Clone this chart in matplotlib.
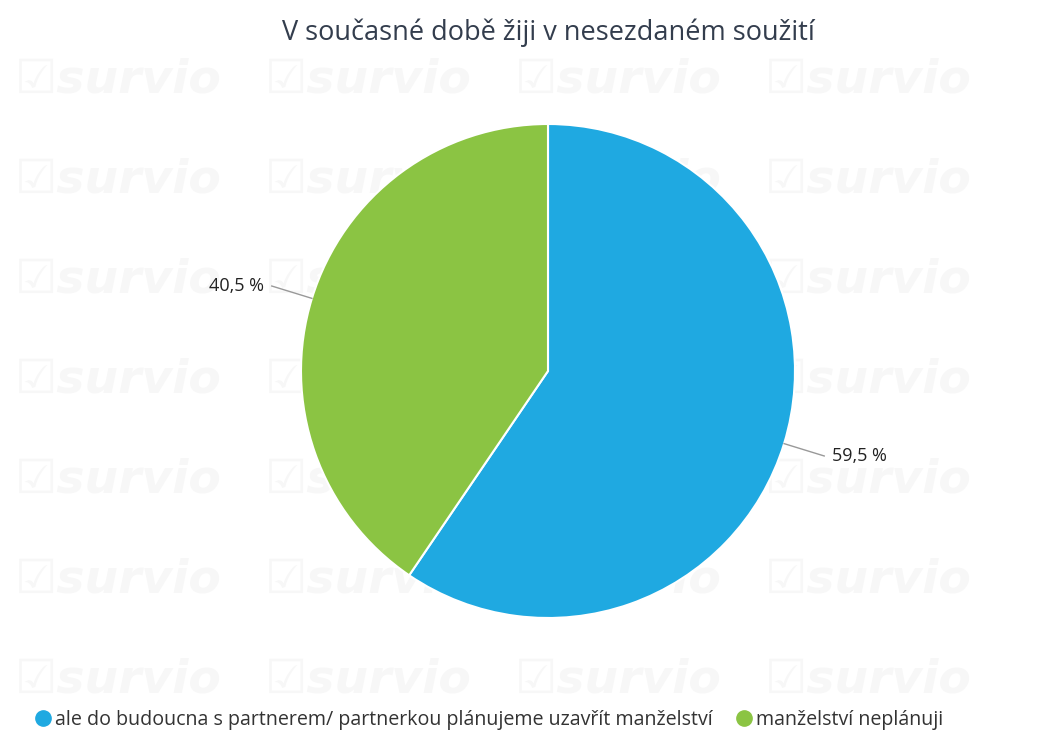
import numpy as np
import matplotlib.pyplot as plt
from matplotlib.lines import Line2D

plt.rcParams['font.family'] = ['Open Sans', 'DejaVu Sans']

title = "V současné době žiji v nesezdaném soužití"
labels = ["ale do budoucna s partnerem/ partnerkou plánujeme uzavřít manželství",
          "manželství neplánuji"]
values = [59.5, 40.5]
colors = ["#1fa9e1", "#8bc443"]

W, H = 1048, 751
fig = plt.figure(figsize=(W / 100, H / 100), dpi=100)
ax = fig.add_axes([0, 0, 1, 1])

# faint watermark grid
for yy in range(80, 700, 100):
    for xx in range(15, W - 50, 250):
        ax.text(xx, H - yy, "☑survio", fontsize=34, fontweight='bold', style='italic',
                color='#f7f7f7', family='DejaVu Sans', va='center', ha='left', zorder=0)

cx, cy, R = 548, H - 371, 247
wedges, _ = ax.pie(values, colors=colors, startangle=90, counterclock=False,
                   center=(cx, cy), radius=R, frame=True,
                   wedgeprops=dict(edgecolor='white', linewidth=1.5))
ax.set_xlim(0, W)
ax.set_ylim(0, H)
ax.axis('off')

for w, v in zip(wedges, values):
    ang = np.deg2rad((w.theta1 + w.theta2) / 2)
    c, s = np.cos(ang), np.sin(ang)
    x0, y0 = cx + R * c, cy + R * s
    x1, y1 = cx + 1.17 * R * c, cy + 1.17 * R * s
    ax.plot([x0, x1], [y0, y1], color='#999999', lw=1, zorder=3)
    ha = 'left' if c > 0 else 'right'
    ax.text(x1 + (8 if c > 0 else -8), y1, f"{v:.1f} %".replace('.', ','),
            ha=ha, va='center', fontsize=13, color='#222222', zorder=4)

ax.text(cx, H - 33, title, ha='center', va='center', fontsize=19.5, color='#333d4d')

handles = [Line2D([0], [0], marker='o', color='none', markerfacecolor=c,
                  markeredgecolor=c, markersize=11) for c in colors]
fig.legend(handles, labels, loc='center left', bbox_to_anchor=(16 / W, 1 - 720 / H),
           ncol=2, frameon=False, fontsize=14.1, handletextpad=0.1, columnspacing=1.1,
           handlelength=1.0, labelcolor='#333333')

fig.savefig('out.png', dpi=100)
